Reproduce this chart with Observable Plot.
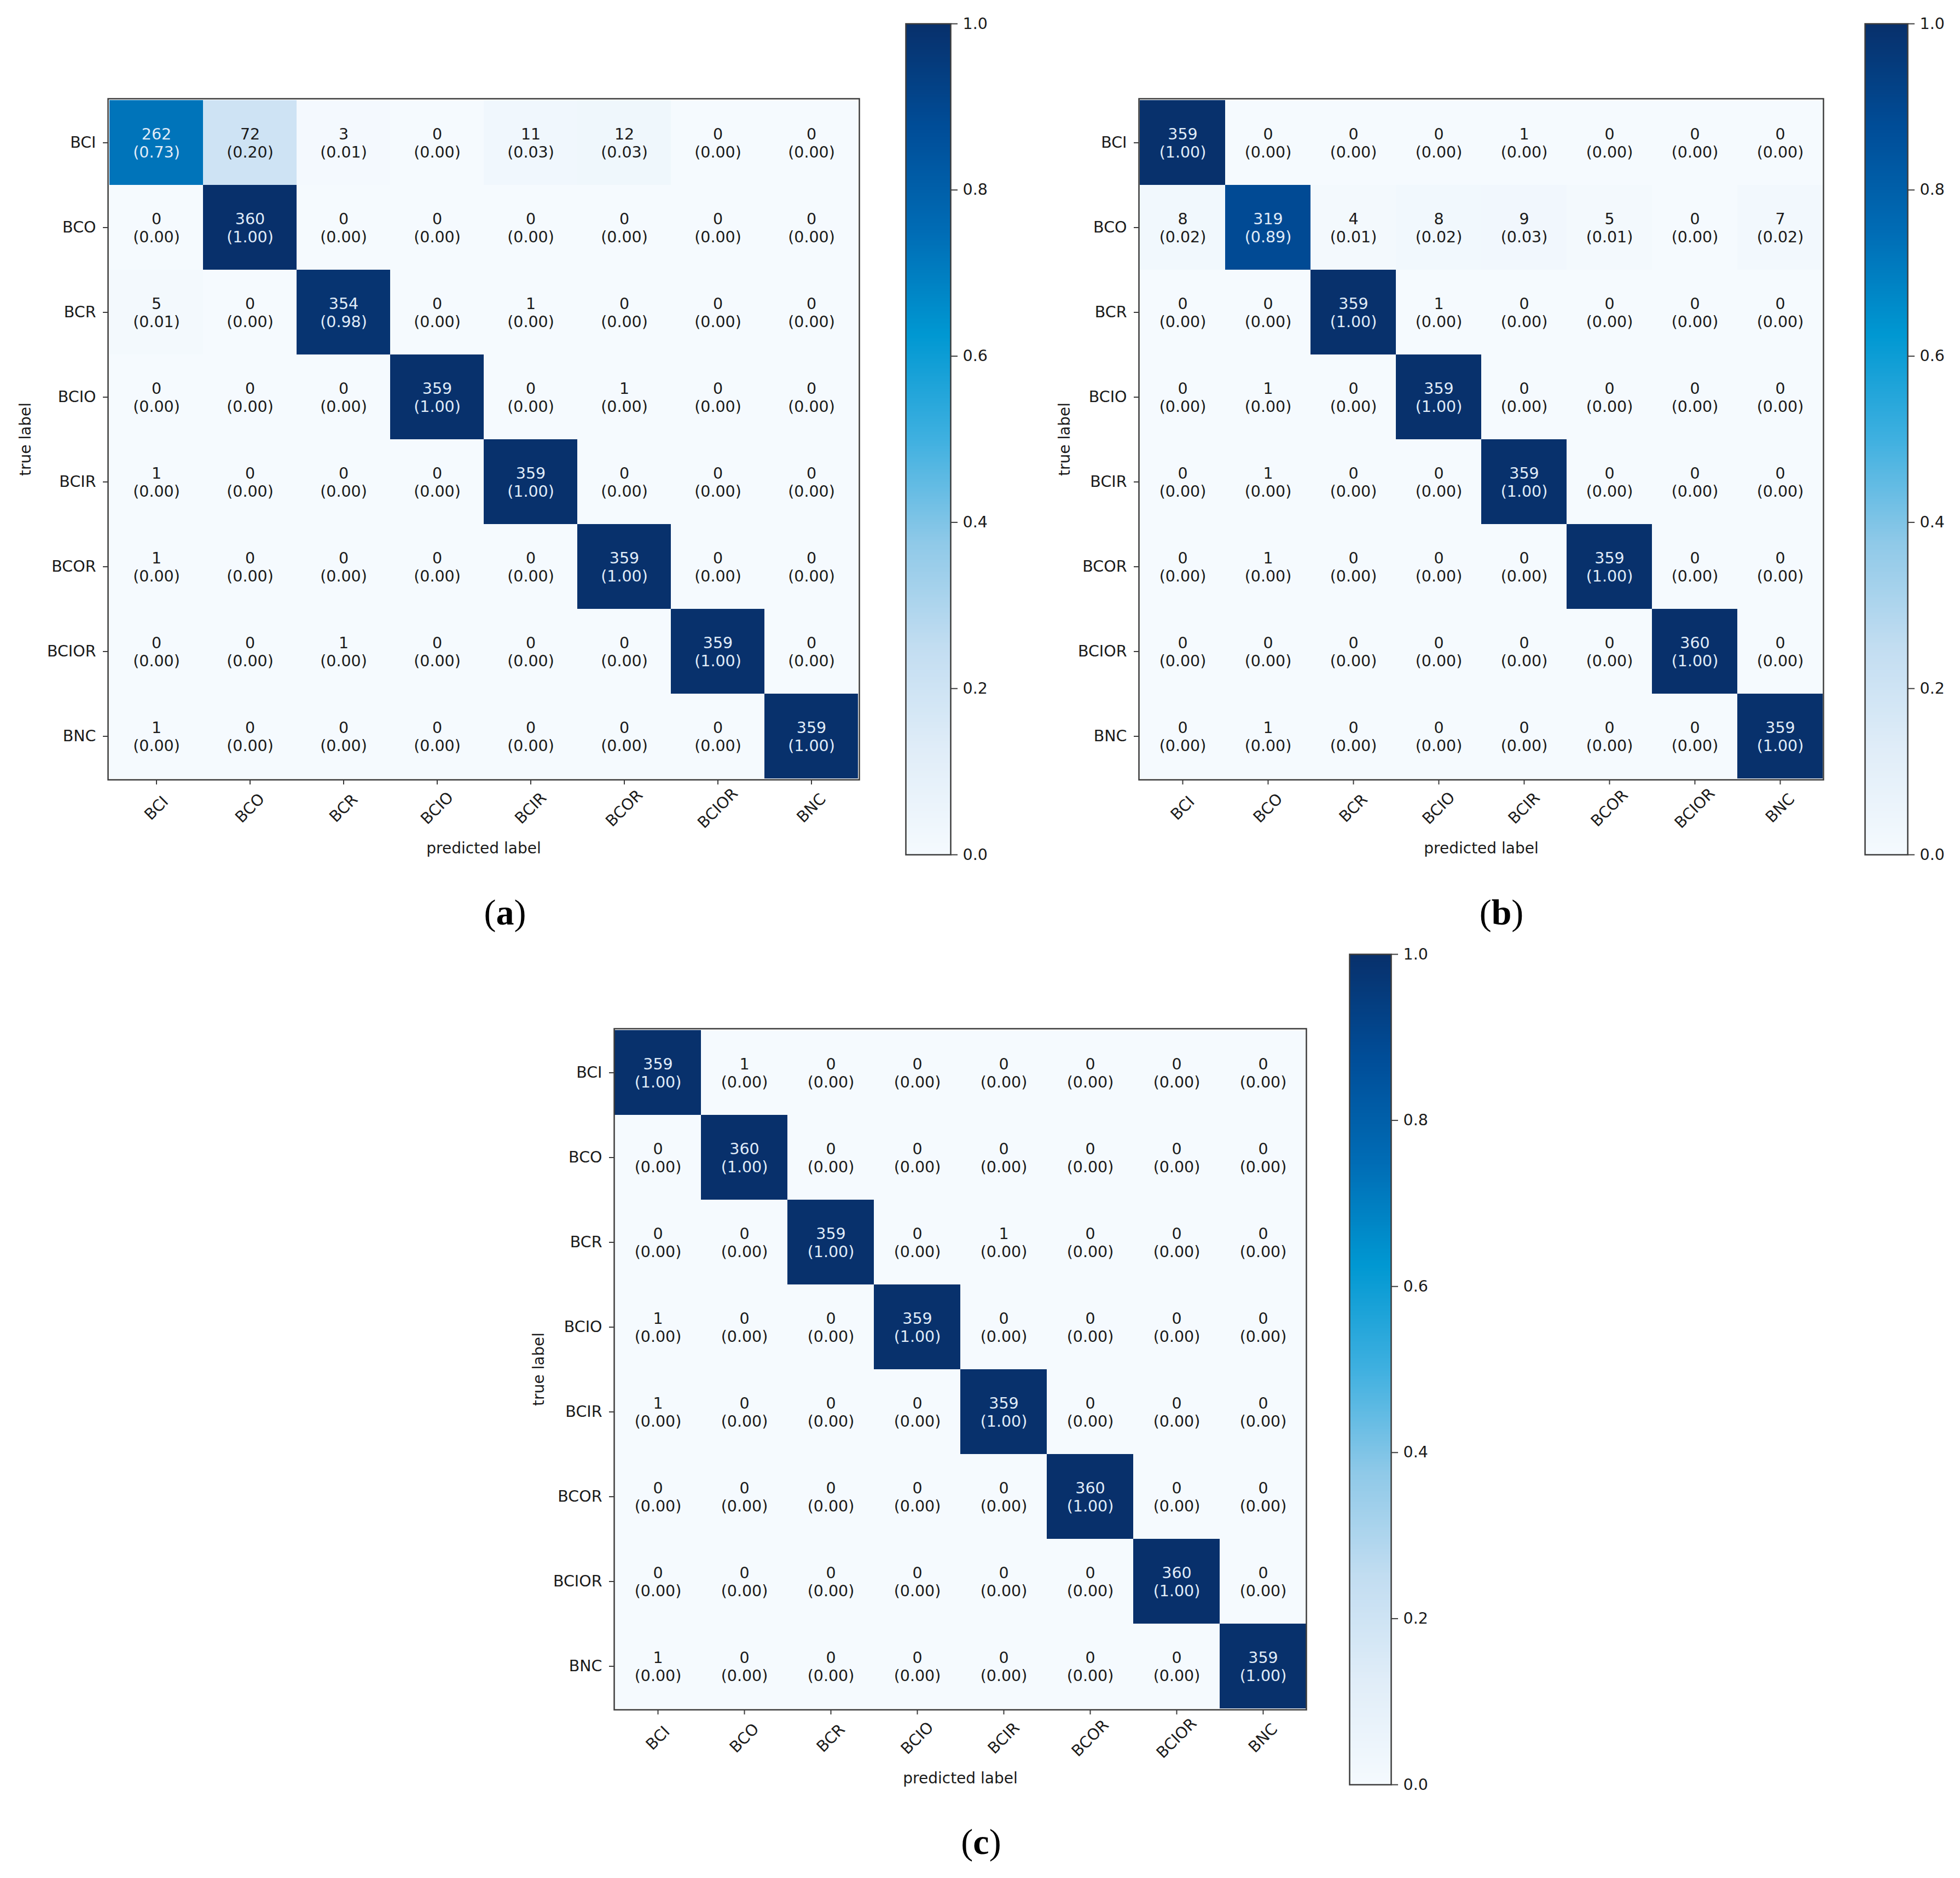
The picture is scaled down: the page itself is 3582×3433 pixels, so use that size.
<!DOCTYPE html>
<html>
<head>
<meta charset="utf-8">
<script src="https://cdn.jsdelivr.net/npm/d3@7"></script>
<script src="https://cdn.jsdelivr.net/npm/@observablehq/plot@0.6"></script>
<style>
html, body { margin: 0; padding: 0; background: #fff; }
#root { position: relative; width: 3582px; height: 3433px; background: #fff; overflow: hidden; }
#root svg { position: absolute; overflow: visible; }
.lab { position: absolute; font-family: "Liberation Serif", "DejaVu Serif", serif; font-size: 66px; transform: translate(-50%, -50%); white-space: nowrap; color: #000; line-height: 1; }
.lab b { font-weight: bold; }
</style>
</head>
<body>
<div id="root"></div>
<script>
// ---- data ----
const classes = ["BCI", "BCO", "BCR", "BCIO", "BCIR", "BCOR", "BCIOR", "BNC"];

// rows = true label, columns = predicted label
const countsA = [
  [262, 72, 3, 0, 11, 12, 0, 0],
  [0, 360, 0, 0, 0, 0, 0, 0],
  [5, 0, 354, 0, 1, 0, 0, 0],
  [0, 0, 0, 359, 0, 1, 0, 0],
  [1, 0, 0, 0, 359, 0, 0, 0],
  [1, 0, 0, 0, 0, 359, 0, 0],
  [0, 0, 1, 0, 0, 0, 359, 0],
  [1, 0, 0, 0, 0, 0, 0, 359]
];
const countsB = [
  [359, 0, 0, 0, 1, 0, 0, 0],
  [8, 319, 4, 8, 9, 5, 0, 7],
  [0, 0, 359, 1, 0, 0, 0, 0],
  [0, 1, 0, 359, 0, 0, 0, 0],
  [0, 1, 0, 0, 359, 0, 0, 0],
  [0, 1, 0, 0, 0, 359, 0, 0],
  [0, 0, 0, 0, 0, 0, 360, 0],
  [0, 1, 0, 0, 0, 0, 0, 359]
];
const countsC = [
  [359, 1, 0, 0, 0, 0, 0, 0],
  [0, 360, 0, 0, 0, 0, 0, 0],
  [0, 0, 359, 0, 1, 0, 0, 0],
  [1, 0, 0, 359, 0, 0, 0, 0],
  [1, 0, 0, 0, 359, 0, 0, 0],
  [0, 0, 0, 0, 0, 360, 0, 0],
  [0, 0, 0, 0, 0, 0, 360, 0],
  [1, 0, 0, 0, 0, 0, 0, 359]
];
const colorbarTicks = [0.0, 0.2, 0.4, 0.6, 0.8, 1.0];
const axisTitleX = "predicted label";
const axisTitleY = "true label";
const panelLetters = ["a", "b", "c"];

// ---- styling ----
const blueStops  = [0, 0.125, 0.25, 0.375, 0.5, 0.625, 0.75, 0.875, 1];
const blueColors = ["#f5fafe", "#e0edf8", "#c2ddf1", "#8fc9e8", "#3fb0e0", "#0098d2", "#006cb5", "#004d98", "#08306b"];
const colorScale = { type: "linear", domain: blueStops, range: blueColors, interpolate: "rgb" };
const FONT = '"DejaVu Sans", "Liberation Sans", sans-serif';
const FS = 28.5;
const DARK = "#1a1a1a";
const LIGHT = "#e0ecf8";
const EDGE = "#3c3c3c";

function toCells(counts) {
  const cells = [];
  counts.forEach((row, i) => {
    const total = d3.sum(row);
    row.forEach((c, j) => cells.push({ truth: classes[i], pred: classes[j], count: c, norm: c / total }));
  });
  return cells;
}

function matrixPlot(counts, o) {
  const cells = toCells(counts);
  const label = d => `${d.count}\n(${d.norm.toFixed(2)})`;
  const svg = Plot.plot({
    width: o.width, height: o.height,
    marginLeft: o.ml, marginTop: o.mt, marginRight: o.mr, marginBottom: o.mb,
    style: { fontFamily: FONT, fontSize: FS + "px", color: DARK, background: "transparent" },
    x: { type: "band", domain: classes, padding: 0 },
    y: { type: "band", domain: classes, padding: 0 },
    color: colorScale,
    marks: [
      Plot.cell(cells, { x: "pred", y: "truth", fill: "norm", inset: 0, shapeRendering: "crispEdges" }),
      Plot.text(cells.filter(d => d.norm > 0.5), { x: "pred", y: "truth", text: label, fill: LIGHT, fontSize: FS, lineHeight: 1.16 }),
      Plot.text(cells.filter(d => d.norm <= 0.5), { x: "pred", y: "truth", text: label, fill: DARK, fontSize: FS, lineHeight: 1.16 }),
      Plot.frame({ stroke: EDGE, strokeWidth: 2.5 }),
      Plot.axisY({ tickSize: 9, tickPadding: 13, label: null, stroke: EDGE, strokeWidth: 2, fontSize: FS }),
      Plot.axisX({ tickSize: 9, tickFormat: () => "", label: null, stroke: EDGE, strokeWidth: 2 }),
      Plot.text(classes, { x: d => d, frameAnchor: "bottom", dy: 52, rotate: -45, textAnchor: "middle", lineAnchor: "middle", fill: DARK, fontSize: FS }),
      Plot.text([axisTitleX], { frameAnchor: "bottom", dy: 126, textAnchor: "middle", lineAnchor: "middle", fill: DARK, fontSize: 28 }),
      Plot.text([axisTitleY], { frameAnchor: "left", dx: -o.titleDx, rotate: -90, textAnchor: "middle", lineAnchor: "middle", fill: DARK, fontSize: 28 })
    ]
  });
  svg.style.left = o.left + "px";
  svg.style.top = o.top + "px";
  return svg;
}

function colorbar(o) {
  const step = 0.002;
  const ramp = d3.range(0, 1, step);
  const svg = Plot.plot({
    width: o.width, height: o.height,
    marginLeft: o.ml, marginTop: o.mt, marginRight: o.mr, marginBottom: o.mb,
    style: { fontFamily: FONT, fontSize: FS + "px", color: DARK, background: "transparent" },
    x: { domain: [0, 1], axis: null },
    y: { domain: [0, 1] },
    color: colorScale,
    marks: [
      Plot.rect(ramp, { x1: 0, x2: 1, y1: d => d, y2: d => Math.min(1, d + step * 1.6), fill: d => d + step / 2, inset: 0, shapeRendering: "crispEdges" }),
      Plot.frame({ stroke: EDGE, strokeWidth: 2.5 }),
      Plot.axisY({ anchor: "right", ticks: colorbarTicks, tickFormat: d3.format(".1f"), tickSize: 12, tickPadding: 10, label: null, stroke: EDGE, strokeWidth: 2, fontSize: FS })
    ]
  });
  svg.style.left = o.left + "px";
  svg.style.top = o.top + "px";
  return svg;
}

const root = document.getElementById("root");
root.appendChild(matrixPlot(countsA, { left: 0, top: 0, width: 1640, height: 1620, ml: 197, mt: 180, mr: 70, mb: 195, titleDx: 150 }));
root.appendChild(colorbar({ left: 1600, top: 0, width: 260, height: 1610, ml: 55, mt: 43, mr: 123, mb: 48 }));
root.appendChild(matrixPlot(countsB, { left: 1850, top: 0, width: 1560, height: 1620, ml: 231, mt: 180, mr: 78, mb: 195, titleDx: 135 }));
root.appendChild(colorbar({ left: 3350, top: 0, width: 232, height: 1610, ml: 58, mt: 43, mr: 96, mb: 48 }));
root.appendChild(matrixPlot(countsC, { left: 900, top: 1700, width: 1557, height: 1620, ml: 222, mt: 180, mr: 70, mb: 195, titleDx: 137 }));
root.appendChild(colorbar({ left: 2400, top: 1700, width: 260, height: 1610, ml: 66, mt: 44, mr: 118, mb: 48 }));

const labelPos = [[923, 1668], [2744, 1668], [1793, 3367]];
panelLetters.forEach((l, i) => {
  const div = document.createElement("div");
  div.className = "lab";
  div.style.left = labelPos[i][0] + "px";
  div.style.top = labelPos[i][1] + "px";
  div.innerHTML = `(<b>${l}</b>)`;
  root.appendChild(div);
});
</script>
</body>
</html>
